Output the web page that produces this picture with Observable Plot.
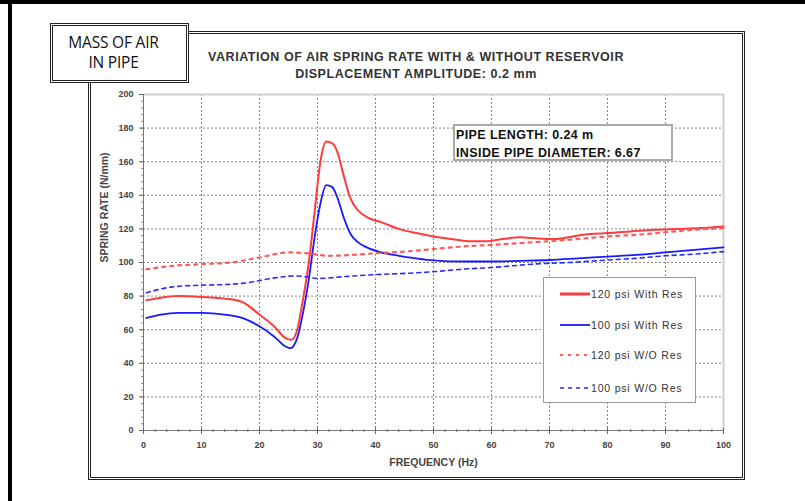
<!DOCTYPE html>
<html>
<head>
<meta charset="utf-8">
<script src="https://cdn.jsdelivr.net/npm/d3@7"></script>
<script src="https://cdn.jsdelivr.net/npm/@observablehq/plot@0.6"></script>
<style>
  html, body { margin: 0; padding: 0; background: #fff; }
  #page { position: relative; width: 805px; height: 501px; overflow: hidden; background: #fff; font-family: "Liberation Sans", Arial, sans-serif; }
  .abs { position: absolute; }
  #frame { left: 88px; top: 31px; width: 651px; height: 443px; border: 3px double #222; box-sizing: content-box; }
  #mass { left: 50px; top: 23px; width: 121px; height: 48px; border: 3px double #222; background: #fff; z-index: 3;
          font-family: "Open Sans", sans-serif; font-size: 15.5px; color: #111; line-height: 20px; text-align: center; padding-top: 6px; padding-right: 12px; box-sizing: content-box; letter-spacing: -0.2px; }
  #title { left: 416px; top: 49px; transform: translateX(-50%); white-space: nowrap; text-align: center; font-weight: bold; font-size: 12.5px; line-height: 17px; color: #333; letter-spacing: 0.55px; z-index: 2; }
  #info { left: 453px; top: 124px; width: 215px; height: 33px; border: 2px solid #aaa; background: #fff; z-index: 2;
          font-weight: bold; font-size: 12.5px; line-height: 18px; color: #111; padding-left: 1px; letter-spacing: 0.4px; white-space: nowrap; }
  #legend { left: 543px; top: 277px; width: 151px; height: 124px; border: 1.5px solid #999; background: #fff; z-index: 2; }
  #chart { left: 0; top: 0; z-index: 1; }
</style>
</head>
<body>
<div id="page">
  <div class="abs" style="left:0;top:0;width:805px;height:4px;background:#000;"></div>
  <div class="abs" style="left:8px;top:0;width:4px;height:501px;background:#000;"></div>
  <div id="frame" class="abs"></div>
  <div id="chart" class="abs"></div>
  <div id="mass" class="abs">MASS OF AIR<br>IN PIPE</div>
  <div id="title" class="abs">VARIATION OF AIR SPRING RATE WITH &amp; WITHOUT RESERVOIR<br>DISPLACEMENT AMPLITUDE: 0.2 mm</div>
  <div id="info" class="abs">PIPE LENGTH: 0.24 m<br>INSIDE PIPE DIAMETER: 6.67</div>
  <div id="legend" class="abs"></div>
</div>
<script>
// ---- data ----
const red120ResX = [0.5, 3, 6, 10, 14, 17, 20, 22.5, 24.5, 25.5, 26.5, 27.5, 28.5, 29.5, 30.5, 31.5, 32.5, 33.5, 34.5, 35.7, 37, 38.5, 41, 44, 47, 50, 53, 56, 59, 62, 65, 68, 71, 74, 77, 80, 84, 88, 92, 96, 100];
const red120ResY = [77.5, 79, 80, 79.5, 78.5, 76.5, 69, 62, 55, 54, 60, 78, 100, 130, 160, 172, 171, 165, 152, 138, 131, 127, 124, 120, 117.5, 115.5, 114, 112.7, 112.7, 114, 115, 114.3, 114, 115.5, 117, 117.5, 118.5, 119.5, 120, 120.5, 121.5];

const blue100ResX = [0.5, 3, 6, 10, 14, 17, 20, 22.5, 24.5, 25.3, 26.5, 27.5, 28.5, 29.5, 30.5, 31.5, 32.5, 33.5, 34.5, 35.7, 37, 38.5, 41, 44, 47, 50, 55, 60, 65, 70, 75, 80, 85, 90, 95, 100];
const blue100ResY = [67, 69, 70, 70, 69, 67, 62, 56, 50, 49, 55, 70, 90, 115, 135, 146, 145, 138, 127, 117, 112, 109, 106, 104, 102.5, 101.3, 100.6, 100.6, 101, 101.5, 102.5, 103.5, 104.5, 106, 107.5, 109];

const red120NoResX = [0.5, 5, 10, 15, 20, 25, 28, 32, 36, 40, 45, 50, 55, 60, 67, 75, 80, 85, 90, 95, 100];
const red120NoResY = [96, 98, 99, 100, 103, 106, 105.5, 104, 104.5, 105.5, 106.5, 108, 109.5, 110.5, 112, 114, 115.5, 116.5, 118, 119.5, 120.5];

const blue100NoResX = [0.5, 5, 10, 15, 18, 22, 26, 28, 30, 35, 40, 45, 50, 55, 60, 67, 75, 80, 85, 90, 95, 100];
const blue100NoResY = [82, 85.5, 86.5, 87, 88, 90.5, 92, 91.5, 90.5, 91.7, 92.8, 93.5, 94.5, 96, 97, 99, 100.3, 101.5, 102.5, 104, 105, 106.5];

const seriesNames = ["120 psi With Res", "100 psi With Res", "120 psi W/O Res", "100 psi W/O Res"];
const xTicks = [0, 10, 20, 30, 40, 50, 60, 70, 80, 90, 100];
const yTicks = [0, 20, 40, 60, 80, 100, 120, 140, 160, 180, 200];

// ---- styles ----
const styles = [
  {stroke: "#ff3b3b", strokeWidth: 2, dash: null},
  {stroke: "#1a1aff", strokeWidth: 1.8, dash: null},
  {stroke: "#ff5a5a", strokeWidth: 2.2, dash: "3,5"},
  {stroke: "#2a2aff", strokeWidth: 1.6, dash: "4,4"}
];

const toRows = (xs, ys) => xs.map((x, i) => ({x, y: ys[i]}));
const series = [
  toRows(red120ResX, red120ResY),
  toRows(blue100ResX, blue100ResY),
  toRows(red120NoResX, red120NoResY),
  toRows(blue100NoResX, blue100NoResY)
];

const lineMarks = series.map((rows, i) => Plot.line(rows, {
  x: "x", y: "y", curve: "monotone-x",
  stroke: styles[i].stroke, strokeWidth: styles[i].strokeWidth,
  strokeDasharray: styles[i].dash || undefined
}));

const tickText = {fontSize: 9, fontWeight: "bold", fill: "#444"};

const chart = Plot.plot({
  width: 805, height: 501,
  marginLeft: 143, marginRight: 82, marginTop: 94, marginBottom: 71,
  style: {background: "transparent", fontFamily: "'Liberation Sans', Arial, sans-serif"},
  x: {domain: [0, 100], axis: null},
  y: {domain: [0, 200], axis: null},
  marks: [
    Plot.ruleX(xTicks.filter(d => d > 0 && d < 100), {stroke: "#888", strokeDasharray: "2,2", strokeWidth: 1}),
    Plot.ruleY(yTicks.filter(d => d > 0 && d < 200), {stroke: "#888", strokeDasharray: "2,2", strokeWidth: 1}),
    Plot.ruleY([200], {stroke: "#cfcfcf", strokeWidth: 2}),
    Plot.ruleX([100], {stroke: "#cfcfcf", strokeWidth: 2}),
    Plot.ruleY([0], {stroke: "#777", strokeWidth: 1}),
    Plot.ruleX([0], {stroke: "#777", strokeWidth: 1}),
    // minor ticks
    Plot.ruleX(d3.range(2, 101, 2), {y1: -1.2, y2: 0.6, stroke: "#777", strokeWidth: 1}),
    Plot.ruleY(d3.range(4, 201, 4), {x1: -0.3, x2: 0.15, stroke: "#777", strokeWidth: 1}),
    // major ticks
    Plot.ruleX(xTicks, {y1: -2.4, y2: 1.2, stroke: "#666", strokeWidth: 1}),
    Plot.ruleY(yTicks, {x1: -0.7, x2: 0, stroke: "#666", strokeWidth: 1}),
    // tick labels
    Plot.text(xTicks, {x: d => d, y: 0, dy: 15, text: d => String(d), ...tickText}),
    Plot.text(yTicks, {x: 0, y: d => d, dx: -10, textAnchor: "end", text: d => String(d), ...tickText}),
    // axis titles
    Plot.text(["SPRING RATE (N/mm)"], {frameAnchor: "left", dx: -39, rotate: -90, fontSize: 10.5, fontWeight: "bold", fill: "#444"}),
    Plot.text(["FREQUENCY (Hz)"], {frameAnchor: "bottom", dy: 35, fontSize: 10.5, fontWeight: "bold", fill: "#444"}),
    ...lineMarks
  ]
});
document.getElementById("chart").appendChild(chart);

// ---- legend ----
const ns = "http://www.w3.org/2000/svg";
const lg = document.createElementNS(ns, "svg");
lg.setAttribute("width", 151); lg.setAttribute("height", 124);
lg.style.position = "absolute"; lg.style.left = "0"; lg.style.top = "0";
const rowY = [16, 47, 77, 110];
seriesNames.forEach((name, i) => {
  const ln = document.createElementNS(ns, "line");
  ln.setAttribute("x1", 16); ln.setAttribute("x2", 46);
  ln.setAttribute("y1", rowY[i]); ln.setAttribute("y2", rowY[i]);
  ln.setAttribute("stroke", styles[i].stroke);
  ln.setAttribute("stroke-width", i === 0 ? 3 : styles[i].strokeWidth);
  if (styles[i].dash) ln.setAttribute("stroke-dasharray", styles[i].dash);
  lg.appendChild(ln);
  const tx = document.createElementNS(ns, "text");
  tx.setAttribute("x", 47); tx.setAttribute("y", rowY[i] + 4);
  tx.setAttribute("font-size", 10.5);
  tx.setAttribute("font-family", "'Liberation Sans', Arial, sans-serif");
  tx.setAttribute("fill", "#333");
  tx.setAttribute("letter-spacing", "0.8");
  tx.textContent = name;
  lg.appendChild(tx);
});
document.getElementById("legend").appendChild(lg);
</script>
</body>
</html>
